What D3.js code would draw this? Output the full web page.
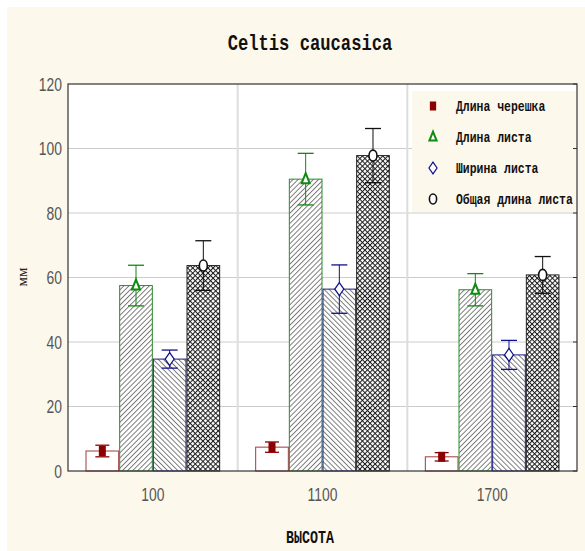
<!DOCTYPE html>
<html>
<head>
<meta charset="utf-8">
<script src="https://cdnjs.cloudflare.com/ajax/libs/d3/7.8.5/d3.min.js"></script>
<style>
  html, body { margin: 0; padding: 0; background: #ffffff; }
  svg { display: block; }
</style>
</head>
<body>
<svg id="chart" width="585" height="551"></svg>
<script>
// Altitude groups (m) and leaf measurements (mm): means and error half-widths
const heights = ["100", "1100", "1700"];
const seriesNames = ["Длина черешка", "Длина листа", "Ширина листа", "Общая длина листа"];
const petiole = [6.2, 7.4, 4.4];
const petioleErr = [1.8, 1.6, 1.3];
const leafLength = [57.5, 90.5, 56.2];
const leafLengthErr = [6.3, 8.0, 5.0];
const leafWidth = [34.7, 56.4, 36.0];
const leafWidthErr = [2.8, 7.5, 4.5];
const totalLength = [63.7, 97.8, 60.8];
const totalLengthErr = [7.7, 8.4, 5.7];
const yTicks = [0, 20, 40, 60, 80, 100, 120];

const means = [petiole, leafLength, leafWidth, totalLength];
const errs = [petioleErr, leafLengthErr, leafWidthErr, totalLengthErr];
const colors = ["#8b0000", "#108a10", "#10108c", "#111111"];
const outline = ["#a03a3a", "#2a8a2a", "#1a1a8c", "#222222"];
const fills = ["#ffffff", "url(#hatchFwd)", "url(#hatchBack)", "url(#hatchCross)"];
const markers = ["square", "triangle", "diamond", "circle"];

const svg = d3.select("#chart");
const W = 585, H = 551;
const m = { left: 68, top: 84, right: 577, bottom: 471 };

// Page background
svg.append("rect").attr("x", 7).attr("y", 7).attr("width", W - 7).attr("height", H - 7).attr("fill", "#fdf8ec");

// Hatch patterns
const defs = svg.append("defs");
function hatch(id, angle) {
  const p = defs.append("pattern").attr("id", id).attr("patternUnits", "userSpaceOnUse")
    .attr("width", 3.6).attr("height", 3.6).attr("patternTransform", `rotate(${angle})`);
  p.append("rect").attr("width", 3.6).attr("height", 3.6).attr("fill", "#ffffff");
  p.append("line").attr("x1", 0.5).attr("y1", 0).attr("x2", 0.5).attr("y2", 3.6)
    .attr("stroke", "#444444").attr("stroke-width", 0.7);
}
hatch("hatchFwd", 45);
hatch("hatchBack", -45);
const pc = defs.append("pattern").attr("id", "hatchCross").attr("patternUnits", "userSpaceOnUse")
  .attr("width", 3.6).attr("height", 3.6).attr("patternTransform", "rotate(45)");
pc.append("rect").attr("width", 3.6).attr("height", 3.6).attr("fill", "#ffffff");
pc.append("line").attr("x1", 0.5).attr("y1", 0).attr("x2", 0.5).attr("y2", 3.6).attr("stroke", "#1a1a1a").attr("stroke-width", 1.0);
pc.append("line").attr("x1", 0).attr("y1", 0.5).attr("x2", 3.6).attr("y2", 0.5).attr("stroke", "#1a1a1a").attr("stroke-width", 1.0);

// Scales
const x0 = d3.scaleBand().domain(heights).range([m.left, m.right]).paddingInner(0).paddingOuter(0);
const x1 = d3.scaleBand().domain(d3.range(seriesNames.length)).range([0, x0.bandwidth()]).paddingOuter(0.52).paddingInner(0);
const y = d3.scaleLinear().domain([0, 120]).range([m.bottom, m.top]);

// Plot area
svg.append("rect").attr("x", m.left).attr("y", m.top).attr("width", m.right - m.left).attr("height", m.bottom - m.top).attr("fill", "#ffffff");

// Grid
const grid = svg.append("g");
grid.selectAll("line.h").data(yTicks.filter(t => t > 0 && t < 120)).enter().append("line")
  .attr("x1", m.left).attr("x2", m.right).attr("y1", d => y(d)).attr("y2", d => y(d))
  .attr("stroke", "#cccccc").attr("stroke-width", 1);
grid.selectAll("line.v").data(heights.slice(1)).enter().append("line")
  .attr("x1", d => x0(d)).attr("x2", d => x0(d)).attr("y1", m.top).attr("y2", m.bottom)
  .attr("stroke", "#dddddd").attr("stroke-width", 2);

// Legend panel
const lg = svg.append("g");
lg.append("rect").attr("x", 412).attr("y", 91).attr("width", 164).attr("height", 121).attr("fill", "#fdf8ec");

// Bars
const groups = svg.append("g").selectAll("g").data(heights).enter().append("g")
  .attr("transform", d => `translate(${x0(d)},0)`);
groups.each(function (h, gi) {
  const g = d3.select(this);
  means.forEach((arr, si) => {
    g.append("rect")
      .attr("x", x1(si) + 0.5).attr("y", y(arr[gi]))
      .attr("width", x1.bandwidth() - 1).attr("height", y(0) - y(arr[gi]))
      .attr("fill", fills[si]).attr("stroke", outline[si]).attr("stroke-width", 1);
  });
});

// Marker drawing helper
function drawMarker(g, type, cx, cy, color, scale) {
  const s = scale || 1;
  if (type === "square") {
    g.append("rect").attr("x", cx - 3.5 * s).attr("y", cy - 5 * s).attr("width", 7 * s).attr("height", 10 * s).attr("fill", color);
  } else if (type === "triangle") {
    g.append("path").attr("d", `M${cx},${cy - 6 * s} L${cx + 4 * s},${cy + 4 * s} L${cx - 4 * s},${cy + 4 * s} Z`)
      .attr("fill", "#ffffff").attr("stroke", color).attr("stroke-width", 2);
  } else if (type === "diamond") {
    g.append("path").attr("d", `M${cx},${cy - 6.5 * s} L${cx + 4.5 * s},${cy} L${cx},${cy + 6.5 * s} L${cx - 4.5 * s},${cy} Z`)
      .attr("fill", "#ffffff").attr("stroke", color).attr("stroke-width", 1.2);
  } else {
    g.append("ellipse").attr("cx", cx).attr("cy", cy).attr("rx", 4 * s).attr("ry", 5.5 * s)
      .attr("fill", "#ffffff").attr("stroke", color).attr("stroke-width", 1.6);
  }
}

// Error bars and means
groups.each(function (h, gi) {
  const g = d3.select(this);
  means.forEach((arr, si) => {
    const cx = x1(si) + x1.bandwidth() / 2;
    const v = arr[gi], e = errs[si][gi];
    const cw = si === 0 ? 7 : 8;
    g.append("line").attr("x1", cx).attr("x2", cx).attr("y1", y(v + e)).attr("y2", y(v - e))
      .attr("stroke", colors[si]).attr("stroke-width", 1);
    [v + e, v - e].forEach(t => g.append("line").attr("x1", cx - cw).attr("x2", cx + cw)
      .attr("y1", y(t)).attr("y2", y(t)).attr("stroke", colors[si]).attr("stroke-width", 1.3));
    drawMarker(g, markers[si], cx, y(v), colors[si], 1);
  });
});

// Frame
svg.append("rect").attr("x", m.left).attr("y", m.top).attr("width", m.right - m.left).attr("height", m.bottom - m.top)
  .attr("fill", "none").attr("stroke", "#333333").attr("stroke-width", 1.2);
// Right-side inner ticks
svg.append("g").selectAll("line").data(yTicks).enter().append("line")
  .attr("x1", m.right - 4).attr("x2", m.right).attr("y1", d => y(d)).attr("y2", d => y(d))
  .attr("stroke", "#333333");

// Axis tick labels in a narrow face
const tickFont = "'Liberation Sans', Arial, sans-serif";
const yAxis = d3.axisLeft(y).tickValues(yTicks).tickSize(0).tickPadding(0);
const ya = svg.append("g").attr("transform", `translate(${m.left - 6},0)`).call(yAxis);
ya.select(".domain").remove();
ya.selectAll("text").attr("x", 0).attr("font-family", tickFont).attr("font-size", 19)
  .attr("fill", "#555555").attr("transform", "scale(0.73,1)");

const xAxis = d3.axisBottom(x0).tickSize(0).tickPadding(0);
const xa = svg.append("g").attr("transform", `translate(0,${m.bottom})`).call(xAxis);
xa.select(".domain").remove();
xa.selectAll("text").attr("y", 30).attr("dy", null).attr("font-family", tickFont).attr("font-size", 19)
  .attr("fill", "#555555").attr("transform", "scale(0.73,1)");

// Title and axis titles
svg.append("text").attr("transform", "translate(310,50) scale(0.78,1)").attr("text-anchor", "middle")
  .attr("font-family", "'Liberation Mono', monospace").attr("font-weight", "bold").attr("font-size", 22)
  .attr("fill", "#111").text("Celtis caucasica");
svg.append("text").attr("transform", "translate(310,543) scale(0.7,1)").attr("text-anchor", "middle")
  .attr("font-family", "'Liberation Mono', monospace").attr("font-weight", "bold").attr("font-size", 19)
  .attr("fill", "#111").text("ВЫСОТА");
svg.append("text").attr("transform", "translate(27,277) rotate(-90)").attr("text-anchor", "middle")
  .attr("font-family", "'Liberation Serif', serif").attr("font-size", 15)
  .attr("fill", "#222").text("мм");

// Legend entries
seriesNames.forEach((name, i) => {
  const ly = 106 + i * 31;
  drawMarker(lg, markers[i], 433, ly, colors[i], 0.9);
  lg.append("text").attr("transform", `translate(456,${ly + 5}) scale(0.83,1)`)
    .attr("font-family", "'Liberation Mono', monospace").attr("font-weight", "bold").attr("font-size", 13.8)
    .attr("fill", "#111").text(name);
});
</script>
</body>
</html>
